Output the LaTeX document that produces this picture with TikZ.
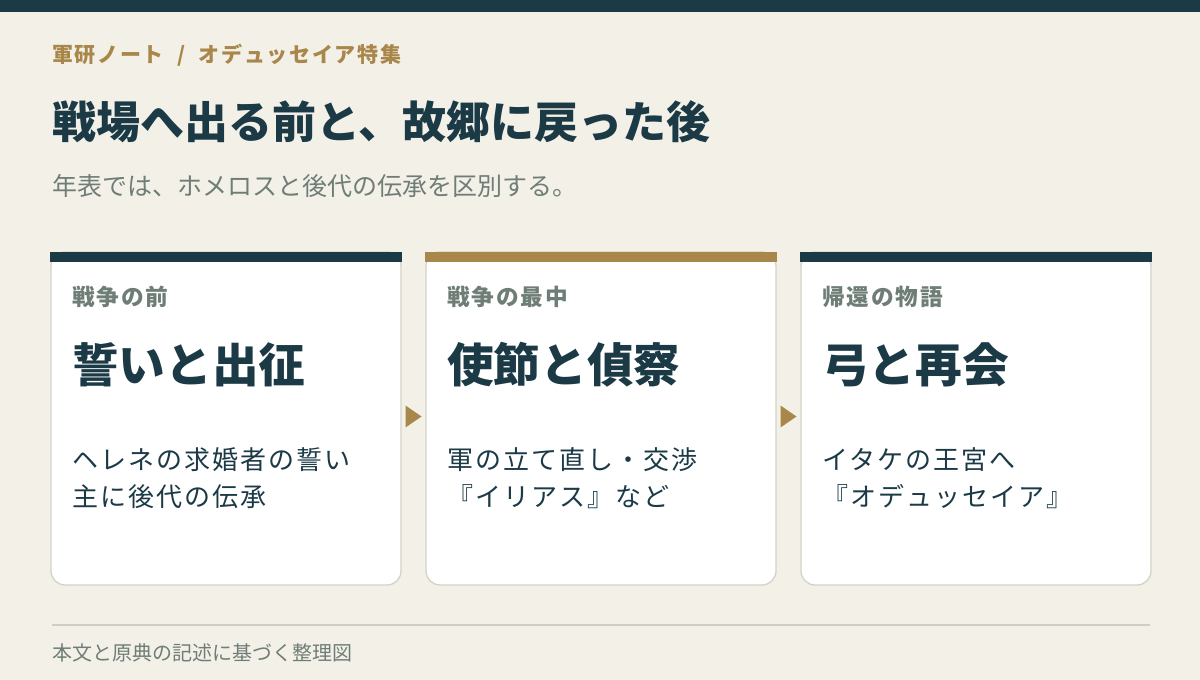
\documentclass[tikz,border=0pt]{standalone}
\usepackage{fontspec}
\setmainfont{Noto Sans CJK JP}
\newfontfamily\spacedfont[LetterSpace=8]{Noto Sans CJK JP}
\usetikzlibrary{calc,positioning}

\definecolor{inkteal}{HTML}{1B3A46}
\definecolor{gold}{HTML}{A9874B}
\definecolor{paper}{HTML}{F3F0E8}
\definecolor{sage}{HTML}{6E7D76}
\definecolor{rulegray}{HTML}{CFCEC2}
\definecolor{cardline}{HTML}{D3D3C8}

\tikzset{
  card/.style={draw=cardline, line width=1pt, fill=white, rounded corners=10.5pt,
    minimum width=262.5pt, minimum height=249.75pt, inner sep=0pt, outer sep=0pt},
  era/.style={anchor=base west, inner sep=0pt, text=sage,
    font=\spacedfont\bfseries\fontsize{17pt}{20pt}\selectfont},
  headline/.style={anchor=base west, inner sep=0pt, text=inkteal,
    font=\bfseries\fontsize{35pt}{42pt}\selectfont},
  note/.style={anchor=base west, inner sep=0pt, text=inkteal,
    font=\spacedfont\fontsize{19.5pt}{24pt}\selectfont},
}

\begin{document}
\begin{tikzpicture}[x=0.75pt, y=-0.75pt]
  \useasboundingbox (0,0) rectangle (1200,680);
  % page
  \fill[paper] (0,0) rectangle (1200,680);
  \fill[inkteal] (0,0) rectangle (1200,12);
  % header
  \node[anchor=base west, inner sep=0pt, text=gold,
    font=\spacedfont\bfseries\fontsize{15.75pt}{19pt}\selectfont] (kicker) at (52,63)
    {軍研ノート\hspace{10pt}/\hspace{10pt}オデュッセイア特集};
  \node[anchor=base west, inner sep=0pt, text=inkteal,
    font=\bfseries\fontsize{33pt}{40pt}\selectfont] (title) at (52,139)
    {戦場へ出る前と、故郷に戻った後};
  \node[anchor=base west, inner sep=0pt, text=sage,
    font=\fontsize{18.75pt}{22pt}\selectfont] (subtitle) at (52,196)
    {年表では、ホメロスと後代の伝承を区別する。};
  % cards
  \node[card] (c1) at (226,418.5) {};
  \node[card, right=18.75pt of c1] (c2) {};
  \node[card, right=18.75pt of c2] (c3) {};
  \foreach \cd/\col in {c1/inkteal, c2/gold, c3/inkteal}
    \fill[\col] ($(\cd.north west)+(-0.7,0)$) rectangle ($(\cd.north east)+(0.7,10)$);
  % card texts
  \foreach \cd/\era/\head/\la/\lb in {
      c1/戦争の前/誓いと出征/ヘレネの求婚者の誓い/主に後代の伝承,
      c2/戦争の最中/使節と偵察/軍の立て直し・交渉/『イリアス』など,
      c3/帰還の物語/弓と再会/イタケの王宮へ/『オデュッセイア』} {
    \node[era] (\cd-era) at ($(\cd.north west)+(21,54)$) {\era};
    \node[headline] (\cd-head) at ($(\cd.north west)+(21,131)$) {\head};
    \node[note] (\cd-la) at ($(\cd.north west)+(21,218)$) {\la};
    \node[note] (\cd-lb) at ($(\cd.north west)+(21,255)$) {\lb};
  }
  % arrows between cards
  \foreach \a/\b in {c1/c2, c2/c3} {
    \coordinate (\a-mid) at ($(\a.east)!0.5!(\b.west)$);
    \fill[gold] ($(\a-mid)+(-8,-13)$) -- ($(\a-mid)+(8,-2)$) -- ($(\a-mid)+(-8,9)$) -- cycle;
  }
  % footer
  \draw[rulegray, line width=1pt] (52,625) -- (1150,625);
  \node[anchor=base west, inner sep=0pt, text=sage,
    font=\fontsize{15pt}{18pt}\selectfont] (source) at (52,661)
    {本文と原典の記述に基づく整理図};
\end{tikzpicture}
\end{document}
